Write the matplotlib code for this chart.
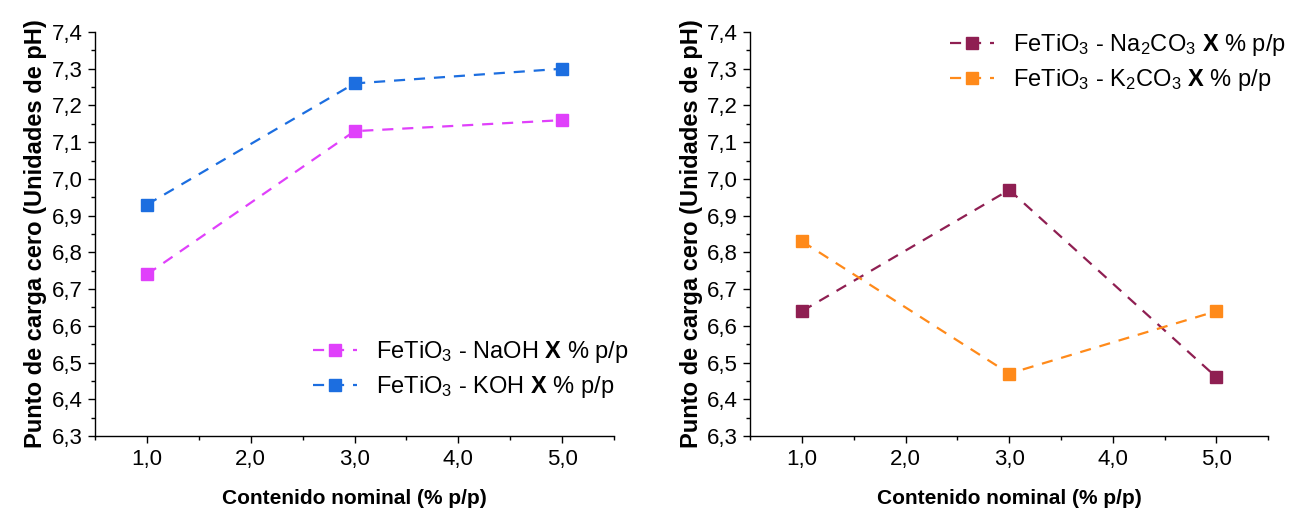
import matplotlib
matplotlib.use("Agg")
import matplotlib.pyplot as plt
from matplotlib.ticker import MultipleLocator, FuncFormatter

plt.rcParams["font.family"] = ["Liberation Sans", "DejaVu Sans"]
plt.rcParams["mathtext.fontset"] = "custom"
plt.rcParams["mathtext.rm"] = "Liberation Sans"
plt.rcParams["mathtext.it"] = "Liberation Sans:italic"
plt.rcParams["mathtext.bf"] = "Liberation Sans:bold"

# contenido nominal (% p/p)
contenido = [1.0, 3.0, 5.0]

# punto de carga cero (pH)
naoh = [6.74, 7.13, 7.16]
koh = [6.93, 7.26, 7.30]
na2co3 = [6.64, 6.97, 6.46]
k2co3 = [6.83, 6.47, 6.64]

lab_naoh = r"FeTiO$_3$ - NaOH $\mathbf{X}$ % p/p"
lab_koh = r"FeTiO$_3$ - KOH $\mathbf{X}$ % p/p"
lab_na2co3 = r"FeTiO$_3$ - Na$_2$CO$_3$ $\mathbf{X}$ % p/p"
lab_k2co3 = r"FeTiO$_3$ - K$_2$CO$_3$ $\mathbf{X}$ % p/p"

C_NAOH = "#e040fb"
C_KOH = "#1c6ee0"
C_NA2CO3 = "#8f1f52"
C_K2CO3 = "#ff8a1a"

coma = FuncFormatter(lambda v, p: f"{v:.1f}".replace(".", ","))

fig = plt.figure(figsize=(12.89, 5.08), dpi=100)
ax1 = fig.add_axes([0.0737, 0.1417, 0.4027, 0.7953])
ax2 = fig.add_axes([0.582, 0.1417, 0.4019, 0.7953])


def serie(ax, y, color, label):
    ax.plot(contenido, y, ls=(0, (5, 4)), lw=1.6, color=color,
            marker="s", ms=9, mec=color, mfc=color, label=label)


serie(ax1, naoh, C_NAOH, lab_naoh)
serie(ax1, koh, C_KOH, lab_koh)
serie(ax2, na2co3, C_NA2CO3, lab_na2co3)
serie(ax2, k2co3, C_K2CO3, lab_k2co3)

for ax in (ax1, ax2):
    ax.set_xlim(0.5, 5.5)
    ax.set_ylim(6.3, 7.4)
    ax.xaxis.set_major_locator(MultipleLocator(1.0))
    ax.xaxis.set_minor_locator(MultipleLocator(0.5))
    ax.yaxis.set_major_locator(MultipleLocator(0.1))
    ax.yaxis.set_minor_locator(MultipleLocator(0.05))
    ax.xaxis.set_major_formatter(coma)
    ax.yaxis.set_major_formatter(coma)
    ax.spines["top"].set_visible(False)
    ax.spines["right"].set_visible(False)
    for s in ("left", "bottom"):
        ax.spines[s].set_linewidth(1.0)
    ax.tick_params(which="major", direction="out", length=5, width=1,
                   labelsize=16, pad=4)
    ax.tick_params(which="minor", direction="out", length=3, width=1)
    ax.set_xlabel("Contenido nominal (% p/p)", fontsize=15,
                  fontweight="bold", labelpad=14)
    ax.set_ylabel("Punto de carga cero (Unidades de pH)", fontsize=17,
                  fontweight="bold", labelpad=3)

leg_kw = dict(frameon=False, fontsize=17, handlelength=1.86,
              handletextpad=0.8, labelspacing=0.4, borderpad=0,
              borderaxespad=0, loc="upper left")
ax1.legend(bbox_to_anchor=(0.42, 0.24), **leg_kw)
ax2.legend(bbox_to_anchor=(0.386, 1.0), **leg_kw)

fig.savefig("out.png", dpi=100)
